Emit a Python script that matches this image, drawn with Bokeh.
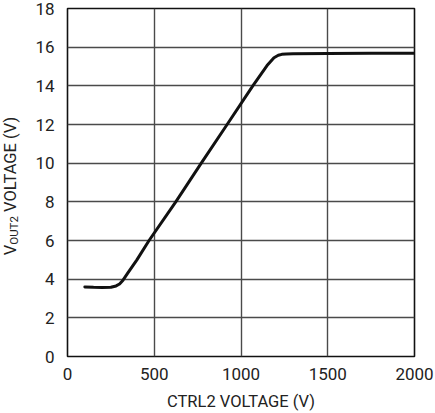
from bokeh.plotting import figure
from bokeh.models import Range1d, FixedTicker, Div
from bokeh.layouts import row
from bokeh.embed import file_html
from bokeh.resources import INLINE

# data
ctrl2_v = [100, 150, 200, 250, 280, 300, 320, 350, 400, 470, 624, 771, 920, 1068,
           1150, 1190, 1215, 1235, 1260, 1300, 1500, 1750, 2000]
vout2_v = [3.60, 3.58, 3.57, 3.58, 3.65, 3.75, 3.95, 4.35, 5.00, 6.00, 8.00, 10.00, 12.00, 14.00,
           15.05, 15.45, 15.58, 15.63, 15.65, 15.66, 15.67, 15.68, 15.68]
x_ticks = [0, 500, 1000, 1500, 2000]
y_ticks = [0, 2, 4, 6, 8, 10, 12, 14, 16, 18]
x_label = "CTRL2 VOLTAGE (V)"
y_label_main, y_label_sub, y_label_rest = "V", "OUT2", " VOLTAGE (V)"

FONT = "Roboto"
TXT = "#222222"
GRID = "#4a4a4a"

p = figure(frame_width=347, frame_height=348,
           min_border_left=45, min_border_right=21, min_border_top=8, min_border_bottom=57,
           x_range=Range1d(0, 2000), y_range=Range1d(0, 18),
           output_backend="svg", toolbar_location=None,
           background_fill_color="white", border_fill_color="white")

p.outline_line_color = "#111111"
p.outline_line_width = 1.6

for ax in (p.xaxis[0], p.yaxis[0]):
    ax.axis_line_color = None
    ax.major_tick_line_color = None
    ax.minor_tick_line_color = None
    ax.major_tick_out = 0
    ax.major_tick_in = 0
    ax.major_label_text_font = FONT
    ax.major_label_text_font_size = "17px"
    ax.major_label_text_color = TXT

p.xaxis.ticker = FixedTicker(ticks=x_ticks)
p.yaxis.ticker = FixedTicker(ticks=y_ticks)
p.xaxis.major_label_standoff = 11
p.yaxis.major_label_standoff = 13
p.xaxis.axis_label = x_label
p.xaxis.axis_label_text_font = FONT
p.xaxis.axis_label_text_font_size = "16.5px"
p.xaxis.axis_label_text_font_style = "normal"
p.xaxis.axis_label_text_color = TXT
p.xaxis.axis_label_standoff = 9

p.xgrid.ticker = FixedTicker(ticks=x_ticks)
p.ygrid.ticker = FixedTicker(ticks=y_ticks)
for g in (p.xgrid[0], p.ygrid[0]):
    g.grid_line_color = GRID
    g.grid_line_width = 1.4

p.line(ctrl2_v, vout2_v, line_color="#111111", line_width=3, line_join="round", line_cap="round")

# rotated y-axis label with subscript, as HTML text in a narrow column
ylab_html = (
    '<div style="position:relative; width:22px; height:413px;">'
    '<div style="position:absolute; left:11px; top:186px; '
    'transform: translate(-50%, -50%) rotate(-90deg); white-space:nowrap; '
    f'font-family:{FONT}; font-size:16.5px; line-height:1; color:{TXT};">'
    f'{y_label_main}<span style="font-size:11.5px; position:relative; top:2px;">{y_label_sub}</span>'
    f'{y_label_rest}</div></div>'
)
ylab = Div(text=ylab_html, width=22, height=413, margin=0)

layout = row(ylab, p, spacing=0)
open("out.html", "w").write(file_html(layout, INLINE))
